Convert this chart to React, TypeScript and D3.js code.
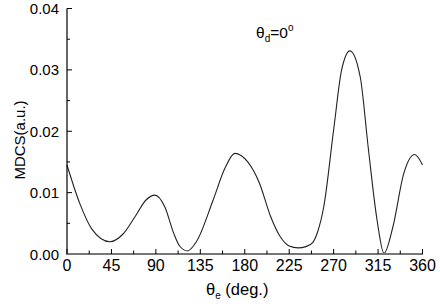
import React from 'react';
import * as d3 from 'd3';

const angles = [0, 13, 25, 43.5, 57, 69, 80, 89, 99, 108, 114, 122, 131, 148, 160, 170, 183, 195, 206, 216, 225, 234, 242, 249, 254, 260, 270, 278, 286.5, 297, 305, 314, 321, 330, 341, 352, 360];
const mdcs = [0.0145, 0.0082, 0.0041, 0.002, 0.0033, 0.0061, 0.0088, 0.0096, 0.0077, 0.0034, 0.0013, 0.0005, 0.002, 0.0088, 0.014, 0.0164, 0.015, 0.0115, 0.0062, 0.0028, 0.0013, 0.001, 0.0012, 0.0019, 0.0037, 0.0077, 0.0202, 0.0299, 0.0331, 0.0288, 0.0174, 0.0055, 0.0001, 0.0044, 0.0131, 0.0162, 0.0145];
const xTicks = [0, 45, 90, 135, 180, 225, 270, 315, 360];
const yTicks = [0, 0.01, 0.02, 0.03, 0.04];

const width = 440;
const height = 306;
const font = 'Liberation Sans, Arial, sans-serif';

const App = () => {
  const x = d3.scaleLinear().domain([0, 360]).range([67, 422.5]);
  const y = d3.scaleLinear().domain([0, 0.04]).range([254, 8.5]);

  const line = d3.line<number>()
    .x((d, i) => x(angles[i]))
    .y(d => y(d))
    .curve(d3.curveMonotoneX);

  const xMinor = d3.range(22.5, 360, 45);
  const yMinor = d3.range(0.005, 0.04, 0.01);

  return (
    <svg width={width} height={height} style={{ position: 'absolute', left: 0, top: 0 }} fontFamily={font}>
      <rect width={width} height={height} fill="#fff" />
      <path d={line(mdcs) || ''} fill="none" stroke="#222" strokeWidth={1.1} />
      {/* y axis */}
      <line x1={67} x2={67} y1={y(0.04)} y2={254} stroke="#000" strokeWidth={1.2} />
      {yTicks.map(t => (
        <g key={t}>
          <line x1={67} x2={72} y1={y(t)} y2={y(t)} stroke="#000" />
          <text x={59} y={y(t) + 5.5} textAnchor="end" fontSize={15}>{t.toFixed(2)}</text>
        </g>
      ))}
      {yMinor.map(t => (
        <line key={t} x1={67} x2={70} y1={y(t)} y2={y(t)} stroke="#000" />
      ))}
      {/* x axis */}
      <line x1={66} x2={423} y1={254} y2={254} stroke="#777" strokeWidth={2} />
      {xTicks.map(t => (
        <g key={t}>
          <line x1={x(t)} x2={x(t)} y1={254} y2={249} stroke="#000" />
          <text x={x(t)} y={271} textAnchor="middle" fontSize={16}>{t}</text>
        </g>
      ))}
      {xMinor.map(t => (
        <line key={t} x1={x(t)} x2={x(t)} y1={254} y2={250.5} stroke="#000" />
      ))}
      <text x={206} y={295} fontSize={16.5}>
        θ<tspan fontSize={10} dy={4}>e</tspan><tspan dy={-4}> (deg.)</tspan>
      </text>
      <text transform="translate(25,140) rotate(-90)" textAnchor="middle" fontSize={15}>MDCS(a.u.)</text>
      <text x={256} y={38} fontSize={15.5}>
        θ<tspan fontSize={10} dy={4}>d</tspan><tspan dy={-4}>=0</tspan><tspan fontSize={10} dy={-7}>o</tspan>
      </text>
    </svg>
  );
};

export default App;
